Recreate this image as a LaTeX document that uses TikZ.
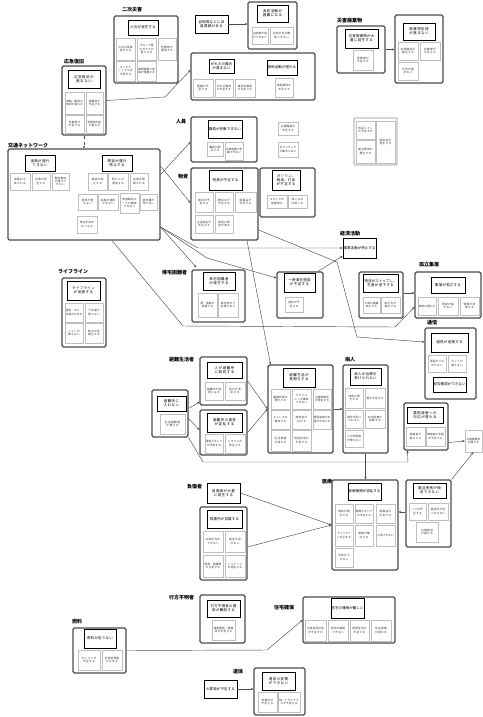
\documentclass[tikz,border=0pt]{standalone}
\usepackage{fontspec}
\setmainfont{Noto Sans CJK JP}
\XeTeXlinebreaklocale "ja"
\XeTeXlinebreakskip=0pt plus 0.5pt
\usetikzlibrary{arrows.meta}
\tikzset{
 obox/.style={draw=black!70, line width=1.1pt, rounded corners=1.5pt, inner sep=0pt},
 lobox/.style={draw=black!45, line width=0.7pt, rounded corners=1pt, inner sep=0pt},
 hbox/.style={draw=black, line width=0.9pt, inner sep=0.4pt, align=center, font=\fontsize{3.5}{4.1}\selectfont},
 cbox/.style={draw=black!25, line width=0.3pt, inner sep=0.3pt, align=center, font=\fontsize{2.7}{3.2}\selectfont, text=black!80},
 lbl/.style={font=\bfseries\fontsize{5}{6}\selectfont, inner sep=0pt, anchor=west},
 conn/.style={draw=black!70, line width=0.45pt, -{Stealth[length=2.6pt,width=2.2pt]}},
}
\newcommand\mkrect[7]{%
 \pgfmathsetmacro\mkw{#5-#3}\pgfmathsetmacro\mkh{#6-#4}\pgfmathsetmacro\mktw{#5-#3-1.4}%
 \node[#1, minimum width=\mkw pt, minimum height=\mkh pt, text width=\mktw pt] (#2) at ({(#3+#5)/2},{(#4+#6)/2}) {#7};}
\begin{document}
\begin{tikzpicture}[x=1pt,y=-1pt]
\fill[white] (0,0) rectangle (482,717);
\useasboundingbox (0,0) rectangle (482,717);

% ---------- labels
\node[lbl] (l1) at (122,10) {二次災害};
\node[lbl] (l2) at (64,62) {応急復旧};
\node[lbl] (l3) at (8,146) {交通ネットワーク};
\node[lbl] (l4) at (176,122) {人員};
\node[lbl] (l5) at (178,177) {物資};
\node[lbl] (l6) at (162,273) {帰宅困難者};
\node[lbl] (l7) at (58,272) {ライフライン};
\node[lbl] (l8) at (340,234) {経済活動};
\node[lbl] (l9) at (419,265) {孤立集落};
\node[lbl] (l10) at (427,323) {通信};
\node[lbl] (l11) at (169,360) {避難生活者};
\node[lbl] (l12) at (345,360) {病人};
\node[lbl] (l13) at (187,487) {負傷者};
\node[lbl] (l14) at (322,482) {医療};
\node[lbl] (l15) at (169,598) {行方不明者};
\node[lbl] (l16) at (274,608) {住宅確保};
\node[lbl] (l17) at (72,622) {燃料};
\node[lbl] (l18) at (233,672) {遺体};
\node[lbl] (l19) at (337,21) {災害廃棄物};

% ---------- 二次災害
\mkrect{obox}{niji}{114}{16}{178}{83}{}
\mkrect{hbox}{nijiH}{128}{20}{158}{35}{火災が発生する}
\mkrect{cbox}{nijiC1}{116}{38}{135}{60}{火災が延焼拡大する}
\mkrect{cbox}{nijiC2}{137}{38}{156}{60}{ブロック塀やガラスが落下する}
\mkrect{cbox}{nijiC3}{158}{38}{176}{60}{危険物が漏洩する}
\mkrect{cbox}{nijiC4}{116}{61}{135}{81}{コンビナートで火災が起きる}
\mkrect{cbox}{nijiC5}{137}{61}{156}{81}{建物倒壊で道路が閉塞する}

% ---------- 応急復旧
\mkrect{obox}{ouk}{62}{66}{106}{135}{}
\mkrect{hbox}{oukH}{68}{70}{100}{88}{応急復旧が進まない}
\mkrect{cbox}{oukC1}{65}{92}{84}{114}{道路・橋梁の復旧が遅れる}
\mkrect{cbox}{oukC2}{86}{92}{103}{114}{資機材が不足する}
\mkrect{cbox}{oukC3}{65}{115}{84}{133}{作業員が不足する}
\mkrect{cbox}{oukC4}{86}{115}{103}{133}{危険度判定が遅れる}

% ---------- 交通ネットワーク
\mkrect{obox}{kotsu}{8}{149}{160}{240}{}
\mkrect{hbox}{kotsuH1}{25}{155}{55}{171}{道路が通行できない}
\mkrect{hbox}{kotsuH2}{102}{155}{132}{171}{鉄道が運行停止する}
\mkrect{cbox}{kotsuC1}{10}{173}{30}{190}{道路が寸断される}
\mkrect{cbox}{kotsuC2}{32}{173}{50}{190}{渋滞が発生する}
\mkrect{cbox}{kotsuC3}{52}{173}{69}{190}{緊急車両が通行できない}
\mkrect{cbox}{kotsuC4}{88}{173}{107}{190}{鉄道が停止する}
\mkrect{cbox}{kotsuC5}{108}{173}{128}{190}{駅に人が滞留する}
\mkrect{cbox}{kotsuC6}{130}{173}{148}{190}{空港が閉鎖される}
\mkrect{cbox}{kotsuC7}{78}{194}{97}{210}{港湾が使えない}
\mkrect{cbox}{kotsuC8}{98}{194}{118}{210}{船舶が運航できない}
\mkrect{cbox}{kotsuC9}{120}{193}{139}{213}{物資輸送ルートが確保できない}
\mkrect{cbox}{kotsuC10}{140}{194}{157}{210}{航空機が飛べない}
\mkrect{cbox}{kotsuC11}{77}{216}{97}{233}{帰宅手段がなくなる}

% ---------- top middle
\mkrect{hbox}{jiei}{195}{15}{228}{33}{自衛隊などに派遣要請がある}
\mkrect{obox}{boxA}{248}{2}{297}{49}{}
\mkrect{hbox}{boxAH}{257}{5}{288}{22}{消防活動が困難になる}
\mkrect{cbox}{boxAC1}{252}{27}{268}{44}{消防車が通行できない}
\mkrect{cbox}{boxAC2}{270}{27}{293}{44}{消防水利が確保できない}

\mkrect{obox}{bigB}{191}{53}{315}{100}{}
\mkrect{hbox}{bigBH1}{209}{59}{234}{73}{がれきの撤去が進まない}
\mkrect{hbox}{bigBH2}{267}{60}{297}{75}{救助活動が遅れる}
\mkrect{cbox}{bigBC1}{193}{79}{213}{97}{重機が不足する}
\mkrect{cbox}{bigBC2}{215}{79}{233}{97}{がれき置場が不足する}
\mkrect{cbox}{bigBC3}{235}{79}{255}{97}{撤去作業員が不足する}
\mkrect{cbox}{bigBC4}{275}{78}{293}{97}{救助要員が不足する}

% ---------- 人員
\mkrect{obox}{jinin}{191}{117}{257}{162}{}
\mkrect{hbox}{jininH}{208}{120}{242}{138}{職員が参集できない}
\mkrect{cbox}{jininC1}{207}{142}{223}{156}{職員が被災する}
\mkrect{cbox}{jininC2}{225}{142}{243}{160}{交通途絶で参集できない}
\mkrect{cbox}{orpC1}{278}{122}{298}{135}{応援職員が不足する}
\mkrect{cbox}{orpC2}{278}{142}{298}{157}{ボランティアが集まらない}

% ---------- 物資
\mkrect{obox}{bus1}{191}{168}{258}{240}{}
\mkrect{hbox}{bus1H}{209}{170}{242}{190}{物資が不足する}
\mkrect{cbox}{bus1C1}{195}{192}{213}{212}{食料が不足する}
\mkrect{cbox}{bus1C2}{215}{192}{233}{212}{飲料水が不足する}
\mkrect{cbox}{bus1C3}{235}{192}{256}{212}{医薬品が不足する}
\mkrect{cbox}{bus1C4}{195}{215}{213}{233}{生活用品が不足する}
\mkrect{cbox}{bus1C5}{215}{215}{233}{233}{物資の配送が滞る}
\mkrect{obox}{bus2}{260}{168}{315}{217}{}
\mkrect{hbox}{bus2H}{272}{170}{300}{190}{ガソリン、軽油、灯油が不足する}
\mkrect{cbox}{bus2C1}{267}{195}{287}{208}{スタンドが営業停止}
\mkrect{cbox}{bus2C2}{288}{195}{307}{208}{買い占めが起こる}

% ---------- 帰宅困難者
\mkrect{obox}{kit1}{192}{270}{245}{322}{}
\mkrect{hbox}{kit1H}{203}{272}{235}{290}{帰宅困難者が発生する}
\mkrect{cbox}{kit1C1}{198}{293}{217}{317}{駅・道路が混雑する}
\mkrect{cbox}{kit1C2}{218}{293}{238}{317}{帰宅途中で危険にあう}
\mkrect{obox}{kit2}{277}{272}{323}{318}{}
\mkrect{hbox}{kit2H}{284}{273}{315}{292}{一時滞在施設が不足する}
\mkrect{cbox}{kit2C1}{285}{297}{303}{312}{食料が不足する}

% ---------- 経済活動 / 孤立集落 / 通信
\mkrect{hbox}{keizai}{343}{238}{376}{258}{事業活動が停止する}
\mkrect{obox}{boxC}{359}{272}{403}{318}{}
\mkrect{hbox}{boxCH}{363}{274}{398}{292}{物流がストップし、生産が低下する}
\mkrect{cbox}{boxCC1}{363}{297}{380}{313}{工場が操業停止する}
\mkrect{cbox}{boxCC2}{381}{297}{400}{313}{取引先が被災する}
\mkrect{obox}{kori}{415}{272}{481}{318}{}
\mkrect{hbox}{koriH}{431}{277}{465}{293}{集落が孤立する}
\mkrect{cbox}{koriC1}{418}{297}{436}{315}{救助が遅れる}
\mkrect{cbox}{koriC2}{438}{297}{458}{315}{物資が届かない}
\mkrect{cbox}{koriC3}{460}{297}{479}{315}{情報が途絶する}
\mkrect{obox}{tsu}{425}{328}{476}{399}{}
\mkrect{hbox}{tsuH1}{431}{333}{468}{352}{通信が途絶する}
\mkrect{cbox}{tsuC1}{428}{355}{446}{372}{電話がつながらない}
\mkrect{cbox}{tsuC2}{448}{355}{466}{372}{ネットが使えない}
\mkrect{hbox}{tsuH2}{433}{377}{466}{392}{安否確認ができない}

% ---------- 災害廃棄物
\mkrect{obox}{hai1}{337}{26}{385}{73}{}
\mkrect{hbox}{hai1H}{345}{29}{378}{48}{災害廃棄物が大量に発生する}
\mkrect{cbox}{hai1C1}{353}{50}{373}{70}{仮置場が不足する}
\mkrect{obox}{hai2}{395}{15}{443}{83}{}
\mkrect{hbox}{hai2H}{403}{23}{435}{40}{廃棄物処理が進まない}
\mkrect{cbox}{hai2C1}{398}{42}{418}{60}{処理施設が被災する}
\mkrect{cbox}{hai2C2}{420}{42}{440}{60}{収集車が不足する}
\mkrect{cbox}{hai2C3}{398}{62}{418}{80}{分別が進まない}
\mkrect{lobox}{boxD}{354}{118}{397}{165}{}
\mkrect{cbox}{boxDC1}{356}{121}{375}{139}{仮設トイレが不足する}
\mkrect{cbox}{boxDC2}{356}{140}{375}{163}{衛生環境が悪化する}
\mkrect{cbox}{boxDC3}{376}{121}{395}{163}{感染症が発生する}

% ---------- ライフライン
\mkrect{obox}{life}{62}{278}{106}{347}{}
\mkrect{hbox}{lifeH}{67}{281}{100}{300}{ライフラインが途絶する}
\mkrect{cbox}{lifeC1}{65}{303}{83}{322}{電気・ガス・水道が止まる}
\mkrect{cbox}{lifeC2}{85}{303}{103}{322}{下水道が使えない}
\mkrect{cbox}{lifeC3}{65}{323}{83}{343}{トイレが使えない}
\mkrect{cbox}{lifeC4}{85}{323}{103}{343}{断水が長期化する}

% ---------- 避難生活者
\mkrect{obox}{hinL}{152}{390}{188}{437}{}
\mkrect{hbox}{hinLH}{157}{396}{186}{411}{避難所に入れない}
\mkrect{cbox}{hinLC}{160}{414}{185}{434}{在宅避難者が増える}
\mkrect{obox}{hin1}{200}{357}{247}{405}{}
\mkrect{hbox}{hin1H}{207}{362}{242}{378}{人が避難所に殺到する}
\mkrect{cbox}{hin1C1}{205}{382}{223}{400}{避難所が過密になる}
\mkrect{cbox}{hin1C2}{225}{382}{245}{400}{受付が混乱する}
\mkrect{obox}{hin2}{200}{410}{247}{455}{}
\mkrect{hbox}{hin2H}{207}{413}{242}{432}{避難所の運営が混乱する}
\mkrect{cbox}{hin2C1}{205}{434}{223}{453}{運営スタッフが不足する}
\mkrect{cbox}{hin2C2}{225}{434}{245}{453}{トラブルが発生する}
\mkrect{obox}{hinB}{268}{365}{333}{453}{}
\mkrect{hbox}{hinBH}{283}{368}{315}{387}{避難生活が長期化する}
\mkrect{cbox}{hinBC1}{271}{389}{290}{409}{健康状態が悪化する}
\mkrect{cbox}{hinBC2}{292}{389}{311}{409}{プライバシーが確保できない}
\mkrect{cbox}{hinBC3}{313}{389}{331}{409}{災害関連死が発生する}
\mkrect{cbox}{hinBC4}{271}{410}{290}{429}{ストレスが増加する}
\mkrect{cbox}{hinBC5}{292}{410}{311}{429}{感染症が広がる}
\mkrect{cbox}{hinBC6}{313}{410}{331}{429}{要配慮者の支援が不足する}
\mkrect{cbox}{hinBC7}{271}{430}{290}{451}{生活再建が遅れる}
\mkrect{cbox}{hinBC8}{292}{430}{311}{451}{仮設住宅が不足する}

% ---------- 病人
\mkrect{obox}{byo}{343}{365}{388}{453}{}
\mkrect{hbox}{byoH}{350}{368}{381}{385}{病人が治療を受けられない}
\mkrect{cbox}{byoC1}{345}{388}{363}{408}{持病が悪化する}
\mkrect{cbox}{byoC2}{365}{388}{385}{408}{薬が不足する}
\mkrect{cbox}{byoC3}{345}{410}{363}{428}{透析が受けられない}
\mkrect{cbox}{byoC4}{365}{410}{385}{428}{在宅医療が途絶する}
\mkrect{cbox}{byoC5}{345}{430}{363}{447}{人工呼吸器が使えない}
\mkrect{obox}{kit3}{404}{403}{448}{450}{}
\mkrect{hbox}{kit3H}{407}{407}{443}{423}{要配慮者への対応が遅れる}
\mkrect{cbox}{kit3C1}{406}{427}{425}{446}{高齢者が孤立する}
\mkrect{cbox}{kit3C2}{426}{427}{445}{446}{障害者の支援が不足する}
\mkrect{cbox}{cellE}{465}{430}{482}{452}{災害関連死が増える}

% ---------- 負傷者 / 医療
\mkrect{hbox}{fuS}{207}{483}{240}{503}{負傷者が大量に発生する}
\mkrect{obox}{fuB}{200}{507}{247}{580}{}
\mkrect{hbox}{fuBH}{207}{510}{242}{528}{救護所が混雑する}
\mkrect{cbox}{fuBC1}{203}{531}{223}{552}{応急手当ができない}
\mkrect{cbox}{fuBC2}{225}{531}{245}{552}{搬送手段がない}
\mkrect{cbox}{fuBC3}{203}{555}{223}{577}{医師・看護師が不足する}
\mkrect{cbox}{fuBC4}{225}{555}{245}{577}{トリアージが混乱する}
\mkrect{obox}{iryo}{332}{480}{398}{570}{}
\mkrect{hbox}{iryoH}{348}{483}{381}{500}{医療機関が混乱する}
\mkrect{cbox}{iryoC1}{335}{504}{353}{523}{病院が被災する}
\mkrect{cbox}{iryoC2}{355}{504}{373}{523}{医療スタッフが不足する}
\mkrect{cbox}{iryoC3}{376}{504}{395}{523}{医薬品が不足する}
\mkrect{cbox}{iryoC4}{335}{525}{353}{546}{ライフラインが止まる}
\mkrect{cbox}{iryoC5}{355}{525}{373}{546}{患者が集中する}
\mkrect{cbox}{iryoC6}{376}{525}{395}{546}{入院できない}
\mkrect{cbox}{iryoC7}{335}{548}{353}{567}{手術ができない}
\mkrect{obox}{iryoR}{406}{480}{451}{547}{}
\mkrect{hbox}{iryoRH}{413}{483}{446}{498}{重症患者が搬送できない}
\mkrect{cbox}{iryoRC1}{409}{503}{426}{520}{ヘリが不足する}
\mkrect{cbox}{iryoRC2}{428}{503}{448}{520}{搬送先が見つからない}
\mkrect{cbox}{iryoRC3}{416}{522}{438}{542}{広域搬送が遅れる}

% ---------- 行方不明者 / 住宅 / 燃料 / 遺体
\mkrect{obox}{yuk}{200}{595}{245}{643}{}
\mkrect{hbox}{yukH}{207}{600}{240}{617}{行方不明者の捜索が難航する}
\mkrect{cbox}{yukC}{212}{620}{235}{640}{捜索要員・資機材が不足する}
\mkrect{obox}{jut}{303}{597}{395}{643}{}
\mkrect{hbox}{jutH}{331}{598}{364}{618}{住宅の確保が難しい}
\mkrect{cbox}{jutC1}{305}{620}{326}{641}{応急仮設住宅が不足する}
\mkrect{cbox}{jutC2}{328}{620}{348}{641}{用地が確保できない}
\mkrect{cbox}{jutC3}{350}{620}{369}{641}{賃貸住宅が不足する}
\mkrect{cbox}{jutC4}{371}{620}{391}{641}{住宅再建が遅れる}
\mkrect{obox}{nen}{73}{628}{126}{673}{}
\mkrect{hbox}{nenH}{84}{629}{116}{648}{燃料が足りない}
\mkrect{cbox}{nenC1}{78}{650}{100}{670}{ガソリンが不足する}
\mkrect{cbox}{nenC2}{102}{650}{122}{670}{非常用発電が止まる}
\mkrect{hbox}{itaiS}{204}{680}{237}{698}{火葬場が不足する}
\mkrect{obox}{itaiB}{254}{668}{305}{715}{}
\mkrect{hbox}{itaiBH}{262}{672}{295}{690}{遺体の安置ができない}
\mkrect{cbox}{itaiBC1}{258}{692}{277}{712}{安置所が不足する}
\mkrect{cbox}{itaiBC2}{278}{692}{300}{712}{棺・ドライアイスが不足する}

% ---------- connectors
\coordinate (b1) at (165,97);
\coordinate (c1) at (207,258);
\coordinate (c2) at (198,248);
\coordinate (c3) at (183,326);
\coordinate (c4) at (395,327);
\coordinate (c5) at (337,262);
\coordinate (c6) at (357,337);
\coordinate (d1) at (203,462);
\coordinate (d2) at (408,462);
\coordinate (e1) at (267,650);

\draw[conn] (ouk.east) -- (b1) -- ([yshift=6.5pt]bigB.west);
\draw[conn,dashed] (ouk.south) -- (kotsu.north);
\draw[conn] (jiei.east) -- (jiei.east -| boxA.west);
\draw[conn] (hai1.east) -- (hai1.east -| hai2.west);

\draw[conn] ([yshift=20pt]kotsu.east) -- ([yshift=-2.5pt]jinin.west);
\draw[conn] ([yshift=28.5pt]kotsu.east) -- ([yshift=1pt]bus1.west);
\draw[conn] ([yshift=-32.5pt]kotsu.east) -- ([xshift=5pt,yshift=2pt]kit1.north west);
\draw[conn] ([yshift=-32.5pt]kotsu.east) -- (c1) -- ([yshift=17pt]kit2.west);
\draw[conn] ([yshift=-32.5pt]kotsu.east) -- (c2) -- (keizai.west);
\draw[conn] ([xshift=28pt]kotsu.south) -- (c3) -- (c4) -- ([yshift=-12pt]kori.west);
\draw[conn] ([xshift=22.5pt]bus1.south) -- ([xshift=-30pt]hinB.north);
\draw[conn] ([yshift=-26pt]bus1.east) -- (c5) -- (c6) -- ([yshift=21.5pt]tsu.west);
\draw[conn] ([xshift=18pt]kit2.north) -- ([yshift=-8pt]keizai.west);
\draw[conn] ([yshift=2pt]boxC.east) -- ([yshift=2pt]boxC.east -| kori.west);

\draw[conn] ([yshift=5pt]hinL.east) -- ([yshift=-21pt]hin1.west);
\draw[conn] ([yshift=-5pt]hinL.east) -- ([yshift=2.5pt]hin2.west);
\draw[conn] (hin1.east) -- (hinB.west);
\draw[conn] (hin2.east) -- (hinB.west);
\draw[conn] (hinL.south east) -- (d1) -- (d2) -- ([xshift=4pt]kit3.south west);
\draw[conn] (hinB.east) -- (hinB.east -| byo.west);
\draw[conn] (byo.south) -- (byo.south |- iryo.north);
\draw[conn] ([yshift=-16pt]kit3.east) -- (cellE.west);

\draw[conn] (fuS.east) -- (iryo.west);
\draw[conn] ([yshift=-3.5pt]fuB.east) -- (iryo.west);
\draw[conn] ([yshift=1.5pt]iryoR.west) -- ([yshift=1.5pt]iryoR.west -| iryo.east);
\draw[conn] (iryoR.north east) -- (cellE.south);
\draw[conn] (nen.east) -- (e1) -- (jut.west);
\draw[conn] (itaiS.east) -- (itaiS.east -| itaiB.west);
\end{tikzpicture}
\end{document}
